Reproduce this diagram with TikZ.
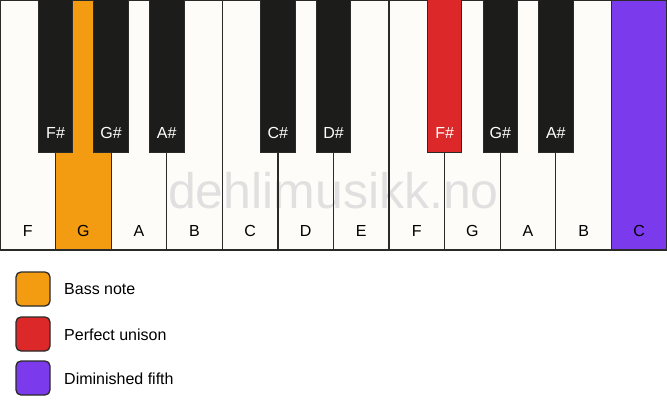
\documentclass[tikz,border=0pt]{standalone}
\usepackage{fontspec}
\setmainfont{Liberation Sans}
\definecolor{ivory}{HTML}{FDFCF8}
\definecolor{keyblack}{HTML}{1C1C1A}
\definecolor{bassorange}{HTML}{F39C12}
\definecolor{unisonred}{HTML}{DC2828}
\definecolor{fifthpurple}{HTML}{7C3AED}
\definecolor{edge}{HTML}{2A2A28}
\tikzset{
  whitekey/.style={draw=edge, line width=1.3pt, fill=ivory, minimum width=55.583pt, minimum height=250pt, anchor=north west, inner sep=0pt, outer sep=0pt},
  blackkey/.style={draw=edge, line width=1pt, fill=keyblack, minimum width=34.5pt, minimum height=153pt, anchor=north, inner sep=0pt, outer sep=0pt},
  wlabel/.style={font=\fontsize{16}{19}\selectfont, text=black},
  blabel/.style={font=\fontsize{16}{19}\selectfont, text=white},
  legendbox/.style={draw=edge, line width=1.3pt, rounded corners=5pt, minimum width=34pt, minimum height=34pt, inner sep=0pt},
  legendtext/.style={font=\fontsize{16}{19}\selectfont, anchor=west, text=black, inner sep=0pt},
}
\begin{document}
\begin{tikzpicture}[x=1pt, y=-1pt]
\useasboundingbox (0,0) rectangle (667,417);
\fill[white] (0,0) rectangle (667,417);
% white keys
\def\w{55.583}
\foreach \i/\n/\c in {0/F/ivory,1/G/bassorange,2/A/ivory,3/B/ivory,4/C/ivory,5/D/ivory,6/E/ivory,7/F/ivory,8/G/ivory,9/A/ivory,10/B/ivory,11/C/fifthpurple}{
  \node[whitekey, fill=\c] (w\i) at (\i*\w, 0) {};
}
% watermark
\node[font=\fontsize{50}{52}\selectfont, text=black!13, opacity=0.9] (wm) at (333.5,191) {dehlimusikk.no};
% redraw white key borders over watermark
\foreach \i in {0,...,11}{
  \draw[edge, line width=1.3pt] (w\i.north west) rectangle (w\i.south east);
}
% white key labels
\foreach \i/\n in {0/F,1/G,2/A,3/B,4/C,5/D,6/E,7/F,8/G,9/A,10/B,11/C}{
  \node[wlabel] (wl\i) at (\i*\w+\w/2, 230.5) {\n};
}
% black keys
\foreach \k/\n/\c in {1/F\#/keyblack,2/G\#/keyblack,3/A\#/keyblack,5/C\#/keyblack,6/D\#/keyblack,8/F\#/unisonred,9/G\#/keyblack,10/A\#/keyblack}{
  \node[blackkey, fill=\c] (b\k) at (\k*\w, 0) {};
  \node[blabel] (bl\k) at (\k*\w, 133) {\n};
}
% legend
\node[legendbox, fill=bassorange] (l1) at (33,289) {};
\node[legendtext] (t1) at (64,289.5) {Bass note};
\node[legendbox, fill=unisonred] (l2) at (33,334) {};
\node[legendtext] (t2) at (64,334.5) {Perfect unison};
\node[legendbox, fill=fifthpurple] (l3) at (33,378) {};
\node[legendtext] (t3) at (64,378.5) {Diminished fifth};
\end{tikzpicture}
\end{document}
